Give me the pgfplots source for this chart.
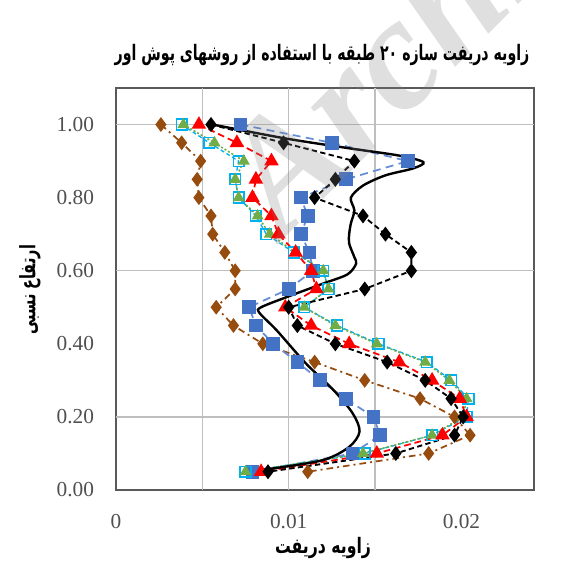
\documentclass[border=0pt]{standalone}
\usepackage{graphicx}
\usepackage{pgfplots}
\pgfplotsset{compat=1.18}
\usepackage{fontspec}
\setmainfont{Liberation Serif}
\newfontfamily\arabicfont[Script=Arabic]{DejaVu Sans}
\TeXXeTstate=1
\definecolor{cbrown}{RGB}{150,75,15}
\definecolor{cblue}{RGB}{68,114,196}
\definecolor{clblue}{RGB}{100,140,215}
\definecolor{ccyan}{RGB}{0,176,240}
\definecolor{cgreen}{RGB}{112,173,71}
\definecolor{cred}{RGB}{255,0,0}
\definecolor{ctick}{RGB}{80,80,80}
\begin{document}
\begin{tikzpicture}
\useasboundingbox (0,0) rectangle (429.75pt,422.25pt);
\begin{axis}[
  at={(87pt,54.75pt)}, anchor=south west,
  scale only axis, width=313.5pt, height=301.5pt,
  xmin=0, xmax=0.0242, ymin=0, ymax=1.1,
  axis line style={draw=black!65, line width=1.3pt},
  scaled x ticks=false,
  xtick={0,0.01,0.02}, xticklabels={0,0.01,0.02},
  ytick={0,0.2,0.4,0.6,0.8,1.0}, yticklabels={0.00,0.20,0.40,0.60,0.80,1.00},
  major tick length=0pt,
  extra x ticks={0.005,0.01,0.015}, extra x tick labels={},
  extra x tick style={grid=major},
  extra y ticks={0.2,0.6,1.0}, extra y tick labels={},
  extra y tick style={grid=major},
  major grid style={draw=black!25, line width=1pt},
  tick label style={font=\fontsize{16}{16}\selectfont, text=ctick},
  xticklabel style={yshift=-15pt},
  yticklabel style={xshift=-13pt},
  clip=false,
]
% brown diamonds
\addplot[color=cbrown, line width=1.3pt, dash pattern=on 5pt off 3pt on 1.5pt off 3pt, mark=diamond*, mark size=4.5pt, mark options={solid, fill=cbrown}] coordinates {
(0.0026,1.00) (0.0038,0.95) (0.0049,0.90) (0.0047,0.85) (0.0048,0.80) (0.0055,0.75) (0.0056,0.70) (0.0063,0.65) (0.0069,0.60) (0.0069,0.55) (0.0058,0.50) (0.0068,0.45) (0.0085,0.40) (0.0115,0.35) (0.0144,0.30) (0.0176,0.25) (0.0196,0.20) (0.0205,0.15) (0.0181,0.10) (0.0111,0.05)};
% blue squares
\addplot[color=clblue, line width=1.3pt, dash pattern=on 6pt off 4pt, mark=square*, mark size=4.5pt, mark options={solid, fill=cblue, draw=cblue}] coordinates {
(0.0072,1.00) (0.0125,0.95) (0.0169,0.90) (0.0133,0.85) (0.0107,0.80) (0.0111,0.75) (0.0107,0.70) (0.0112,0.65) (0.0114,0.60) (0.0100,0.55) (0.0077,0.50) (0.0081,0.45) (0.0091,0.40) (0.0105,0.35) (0.0118,0.30) (0.0133,0.25) (0.0149,0.20) (0.0153,0.15) (0.0137,0.10) (0.0079,0.05)};
% cyan open squares
\addplot[color=ccyan, line width=1pt, dash pattern=on 3pt off 2pt, mark=square, mark size=4pt, mark options={solid, line width=1.2pt}] coordinates {
(0.0038,1.00) (0.0054,0.95) (0.0071,0.90) (0.0069,0.85) (0.0071,0.80) (0.0081,0.75) (0.0087,0.70) (0.0103,0.65) (0.0120,0.60) (0.0123,0.55) (0.0109,0.50) (0.0128,0.45) (0.0152,0.40) (0.0180,0.35) (0.0194,0.30) (0.0204,0.25) (0.0203,0.20) (0.0183,0.15) (0.0144,0.10) (0.0075,0.05)};
% green triangles
\addplot[color=cgreen, line width=1.2pt, dash pattern=on 1.5pt off 1.5pt, mark=triangle*, mark size=4pt, mark options={solid, fill=cgreen}] coordinates {
(0.0039,1.00) (0.0057,0.95) (0.0074,0.90) (0.0069,0.85) (0.0071,0.80) (0.0082,0.75) (0.0089,0.70) (0.0104,0.65) (0.0120,0.60) (0.0123,0.55) (0.0109,0.50) (0.0127,0.45) (0.0151,0.40) (0.0179,0.35) (0.0193,0.30) (0.0203,0.25) (0.0201,0.20) (0.0183,0.15) (0.0143,0.10) (0.0075,0.05)};
% red triangles
\addplot[color=cred, line width=1.3pt, dash pattern=on 5pt off 3pt, mark=triangle*, mark size=5pt, mark options={solid, fill=cred}] coordinates {
(0.0048,1.00) (0.0070,0.95) (0.0090,0.90) (0.0081,0.85) (0.0079,0.80) (0.0090,0.75) (0.0094,0.70) (0.0104,0.65) (0.0113,0.60) (0.0116,0.55) (0.0098,0.50) (0.0113,0.45) (0.0135,0.40) (0.0164,0.35) (0.0183,0.30) (0.0199,0.25) (0.0203,0.20) (0.0189,0.15) (0.0151,0.10) (0.0084,0.05)};
% black diamonds
\addplot[color=black, line width=1.4pt, dash pattern=on 4pt off 2.5pt, mark=diamond*, mark size=4.5pt, mark options={solid, fill=black}] coordinates {
(0.0055,1.00) (0.0097,0.95) (0.0138,0.90) (0.0127,0.85) (0.0115,0.80) (0.0143,0.75) (0.0156,0.70) (0.0171,0.65) (0.0171,0.60) (0.0144,0.55) (0.0100,0.50) (0.0105,0.45) (0.0127,0.40) (0.0157,0.35) (0.0179,0.30) (0.0194,0.25) (0.0201,0.20) (0.0196,0.15) (0.0162,0.10) (0.0088,0.05)};
% black solid curve
\addplot[color=black, line width=1.8pt, smooth, tension=0.5, no marks] coordinates {
(0.0056,1.00) (0.0098,0.962) (0.0135,0.935) (0.0164,0.915) (0.0178,0.897) (0.0172,0.880) (0.0156,0.861) (0.0143,0.833) (0.0136,0.800) (0.0138,0.765) (0.0136,0.730) (0.0135,0.700) (0.0135,0.674) (0.0138,0.637) (0.0139,0.619) (0.0134,0.590) (0.0120,0.565) (0.0100,0.530) (0.0084,0.500) (0.0083,0.485) (0.0093,0.437) (0.0110,0.346) (0.0126,0.273) (0.0137,0.210) (0.0141,0.160) (0.0135,0.118) (0.0120,0.082) (0.0091,0.059) (0.0076,0.050)};
\end{axis}
% watermark
\node[rotate=45, anchor=base west, font=\fontsize{120}{120}\selectfont\bfseries\itshape, text=black!50, opacity=0.25] at (210pt,240pt) {Archive};
% title and labels
\node[font=\arabicfont\bfseries\fontsize{16}{18}\selectfont, inner sep=0pt] at (241.5pt,381pt) {\resizebox{311pt}{\height}{\beginR زاویه دریفت سازه ۲۰ طبقه با استفاده از روشهای پوش اور\endR}};
\node[font=\arabicfont\bfseries\fontsize{16}{18}\selectfont, inner sep=0pt] at (242.25pt,11pt) {\resizebox{72pt}{\height}{\beginR زاویه دریفت\endR}};
\node[rotate=90, font=\arabicfont\bfseries\fontsize{16}{18}\selectfont, inner sep=0pt] at (22.5pt,204.75pt) {\resizebox{67.5pt}{\height}{\beginR ارتفاع نسبی\endR}};
\end{tikzpicture}
\end{document}
